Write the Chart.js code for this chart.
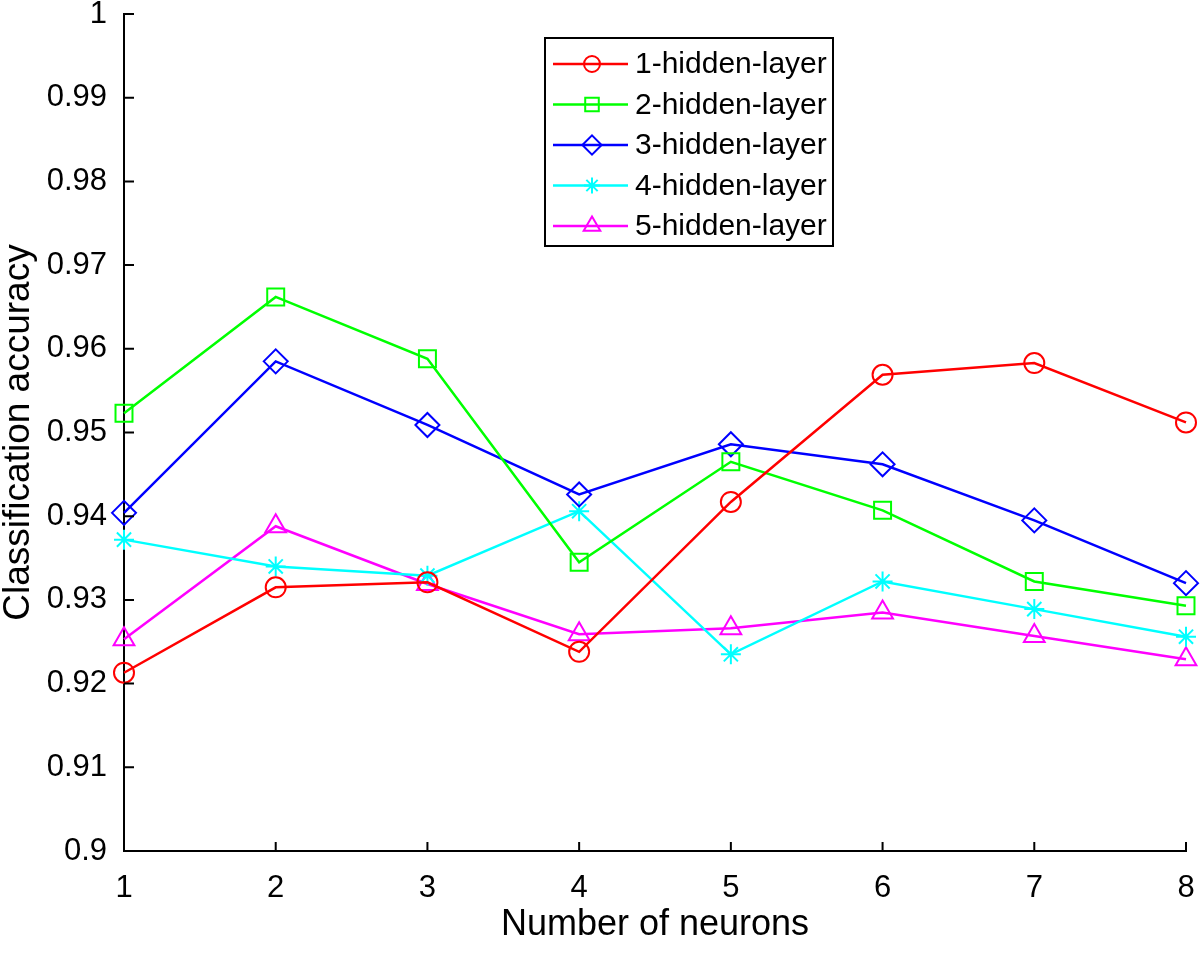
<!DOCTYPE html>
<html>
<head>
<meta charset="utf-8">
<title>Classification accuracy</title>
<script src="https://cdn.jsdelivr.net/npm/chart.js@4.4.0/dist/chart.umd.min.js"></script>
<style>
  html, body { margin: 0; padding: 0; background: #fff; }
  #wrap { width: 1200px; height: 953px; position: relative; }
</style>
</head>
<body>
<div id="wrap"><canvas id="chart"></canvas></div>
<script>
const neurons = ['1', '2', '3', '4', '5', '6', '7', '8'];
const yTickValues = [0.9, 0.91, 0.92, 0.93, 0.94, 0.95, 0.96, 0.97, 0.98, 0.99, 1];

const seriesNames = ['1-hidden-layer', '2-hidden-layer', '3-hidden-layer', '4-hidden-layer', '5-hidden-layer'];
const layer1 = [0.9213, 0.9315, 0.9321, 0.9238, 0.9417, 0.9569, 0.9583, 0.9512];
const layer2 = [0.9523, 0.9662, 0.9588, 0.9345, 0.9465, 0.9407, 0.9322, 0.9293];
const layer3 = [0.9404, 0.9585, 0.9509, 0.9426, 0.9486, 0.9462, 0.9395, 0.9320];
const layer4 = [0.9372, 0.9340, 0.9329, 0.9406, 0.9235, 0.9322, 0.9289, 0.9256];
const layer5 = [0.9253, 0.9388, 0.9319, 0.9259, 0.9266, 0.9285, 0.9257, 0.9229];

const colors = ['#ff0000', '#00ff00', '#0000ff', '#00ffff', '#ff00ff'];
const markers = ['circle', 'rect', 'rectRot', 'star', 'triangle'];
const markerSizes = [10, 12, 12, 10, 12];

const FONT = '"Liberation Sans", Arial, Helvetica, sans-serif';

const makeDataset = (values, i) => ({
  label: seriesNames[i],
  data: values,
  borderColor: colors[i],
  borderWidth: 2.5,
  pointStyle: markers[i],
  pointRadius: markerSizes[i],
  pointHoverRadius: markerSizes[i],
  pointBorderColor: colors[i],
  pointBackgroundColor: 'rgba(0,0,0,0)',
  pointBorderWidth: 2,
  tension: 0,
  fill: false,
  clip: false,
});

// MATLAB style inward tick marks on the left and bottom axes
const inwardTicks = {
  id: 'inwardTicks',
  afterDraw(chart) {
    const { ctx, chartArea, scales } = chart;
    ctx.save();
    ctx.strokeStyle = '#000';
    ctx.lineWidth = 2;
    ctx.beginPath();
    scales.y.ticks.forEach((t) => {
      const py = scales.y.getPixelForValue(t.value);
      ctx.moveTo(chartArea.left, py);
      ctx.lineTo(chartArea.left + 10, py);
    });
    neurons.forEach((n, i) => {
      const px = scales.x.getPixelForValue(i);
      ctx.moveTo(px, chartArea.bottom);
      ctx.lineTo(px, chartArea.bottom - 9);
    });
    ctx.stroke();
    ctx.restore();
  },
};

// legend box with line + marker samples
const boxLegend = {
  id: 'boxLegend',
  afterDraw(chart) {
    const { ctx, chartArea } = chart;
    const left = chartArea.left + 421;
    const top = chartArea.top + 24;
    const w = 288;
    const h = 208;
    ctx.save();
    ctx.fillStyle = '#fff';
    ctx.fillRect(left, top, w, h);
    ctx.strokeStyle = '#000';
    ctx.lineWidth = 2;
    ctx.strokeRect(left, top, w, h);
    ctx.font = '30px ' + FONT;
    ctx.textBaseline = 'middle';
    chart.data.datasets.forEach((ds, i) => {
      const cy = top + 26 + i * 40.5;
      ctx.strokeStyle = ds.borderColor;
      ctx.lineWidth = 2.5;
      ctx.beginPath();
      ctx.moveTo(left + 8, cy);
      ctx.lineTo(left + 83, cy);
      ctx.stroke();
      ctx.lineWidth = 2;
      ctx.fillStyle = 'rgba(0,0,0,0)';
      Chart.helpers.drawPoint(ctx, {
        pointStyle: ds.pointStyle,
        radius: ds.pointRadius * 0.8,
        borderWidth: 2,
        rotation: 0,
      }, left + 47, cy);
      ctx.fillStyle = '#000';
      ctx.fillText(ds.label, left + 90, cy + 1);
    });
    ctx.restore();
  },
};

const ctx = document.getElementById('chart').getContext('2d');

new Chart(ctx, {
  type: 'line',
  data: {
    labels: neurons,
    datasets: [layer1, layer2, layer3, layer4, layer5].map(makeDataset),
  },
  options: {
    responsive: true,
    maintainAspectRatio: false,
    animation: false,
    events: [],
    layout: { padding: { top: 11, right: 12, bottom: 0, left: 0 } },
    plugins: {
      legend: { display: false },
      tooltip: { enabled: false },
    },
    scales: {
      x: {
        type: 'category',
        offset: false,
        grid: { display: true, drawOnChartArea: false, drawTicks: false },
        border: { display: true, color: '#000', width: 2 },
        ticks: {
          color: '#000',
          padding: 19,
          maxRotation: 0,
          autoSkip: false,
          font: { family: FONT, size: 31 },
        },
        title: {
          display: true,
          text: 'Number of neurons',
          color: '#000',
          font: { family: FONT, size: 36, lineHeight: 1 },
          padding: { top: 0, bottom: 10 },
        },
        afterFit(scale) {
          scale.height = 102;
          scale.paddingLeft = 0;
          scale.paddingRight = 0;
        },
      },
      y: {
        type: 'linear',
        min: 0.9,
        max: 1,
        grid: { display: true, drawOnChartArea: false, drawTicks: false },
        border: { display: true, color: '#000', width: 2 },
        afterBuildTicks(scale) {
          scale.ticks = yTickValues.map((v) => ({ value: v }));
        },
        ticks: {
          color: '#000',
          padding: 17,
          font: { family: FONT, size: 31 },
          callback: (v) => String(Number(v.toFixed(2))),
        },
        title: {
          display: true,
          text: 'Classification accuracy',
          color: '#000',
          font: { family: FONT, size: 37, lineHeight: 1 },
          padding: { top: 0, bottom: 0 },
        },
        afterFit(scale) {
          scale.width = 124;
          scale.paddingTop = 0;
          scale.paddingBottom = 0;
        },
      },
    },
  },
  plugins: [inwardTicks, boxLegend],
});
</script>
</body>
</html>
